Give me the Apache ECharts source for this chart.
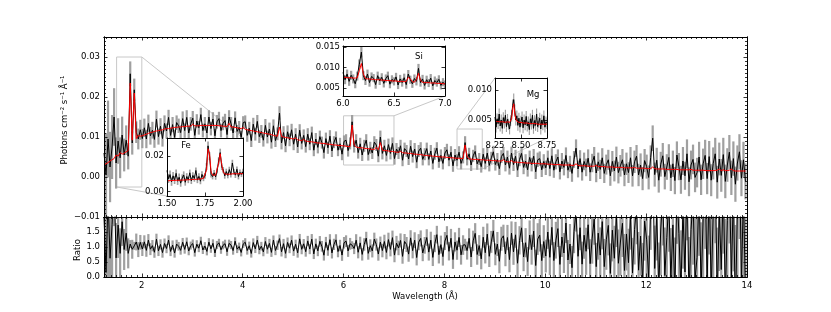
<!DOCTYPE html>
<html><head><meta charset="utf-8">
<script src="https://cdn.jsdelivr.net/npm/echarts@6/dist/echarts.min.js"></script>
<style>html,body{margin:0;padding:0;background:#fff}#c{width:831px;height:312px}</style>
</head><body><div id="c"></div>
<script>
// ---------- DATA (flux values in units of 1e-4 photons cm^-2 s^-1 Å^-1) ----------
const UNIT = 1e-4;
const WAVE_START = 1.25, WAVE_STEP = 0.04;
const flux = [
60,5,95,25,75,150,35,90,48,105,55,92,52,
258,85,218,112,95,118,96,
123,95,134,103,117,94,145,101,127,96,134,115,149,104,131,99,136,128,111,146,
116,149,110,133,147,104,140,123,156,116,133,110,150,121,145,103,138,146,116,134,
141,106,150,133,110,148,114,124,99,136,138,104,122,91,132,107,139,101,114,92,
129,100,120,87,128,91,108,160,85,111,78,113,93,118,82,107,75,117,84,104,
76,107,82,111,67,95,74,101,86,61,96,73,102,65,87,99,67,83,57,89,
92,66,84,138,76,92,61,83,55,78,92,56,73,60,87,80,52,100,59,78,
54,81,59,84,46,70,60,78,42,71,65,45,77,51,70,37,65,72,44,57,
71,44,65,34,58,72,38,54,34,60,68,42,62,28,55,42,62,34,49,86,
44,58,30,53,64,33,45,26,57,34,60,29,48,63,31,44,21,51,59,30,
50,22,60,31,52,17,44,59,24,40,18,49,31,52,13,43,46,18,39,23,
48,21,53,17,38,50,13,40,24,54,17,33,9,44,72,20,46,12,39,24,
47,12,35,52,10,38,19,48,9,31,43,3,39,15,50,11,28,43,5,33,
11,48,3,38,52,5,30,-4,41,26,-1,49,97,6,42,-8,32,53,1,25,
49,-2,33,-9,55,26,-7,40,3,58,-12,30,44,-1,11,50,-7,33,54,-4,
51,-8,34,58,-13,45,4,56,-11,30,62,-2,46,-18,35,63,-3,43,-11];
const model = [
30,33,36,40,43,46,55,52,61,57,60,63,66,
235,92,210,96,104,102,103,
105,107,109,111,112,114,115,116,117,118,120,121,121,122,123,124,124,125,125,126,
126,127,127,127,132,128,128,128,129,129,129,129,129,129,129,129,129,128,128,127,
127,126,134,125,125,124,123,122,121,124,119,118,117,116,115,114,113,112,111,110,
109,108,107,106,104,103,102,125,101,100,99,98,97,96,95,98,93,92,91,94,
90,89,88,88,87,86,85,85,84,84,83,82,82,81,80,80,79,79,78,78,
77,76,76,130,80,75,74,73,73,72,71,71,70,69,69,74,68,86,67,66,
66,65,64,64,63,62,62,64,61,60,60,59,59,58,57,57,56,56,55,54,
54,53,53,52,52,51,51,50,50,50,49,49,48,48,47,47,47,46,46,80,
50,45,45,44,44,44,43,43,43,42,42,42,41,41,41,40,40,40,43,39,
38,38,41,37,37,37,36,36,36,35,35,35,34,34,34,34,33,33,33,33,
32,32,32,31,31,31,31,30,30,30,30,30,29,29,33,29,28,28,28,28,
27,27,27,27,29,26,26,26,26,25,25,25,25,24,24,24,24,24,23,23,
23,23,23,24,22,22,22,22,22,21,21,21,25,21,20,20,20,20,20,19,
19,19,19,19,19,18,18,18,18,18,18,19,17,17,17,17,17,17,16,16,
16,16,16,16,17,20,16,18,16,16,17,20,16,15,15,15,15,15,15];
const err = [
115,105,96,88,80,72,64,57,51,46,41,37,33,
31,29,28,27,26,25,24,
23,23,22,22,21,21,21,20,20,20,20,19,19,19,19,19,18,18,18,18,
18,18,18,17,18,17,17,17,17,17,17,17,17,17,17,17,17,17,17,17,
17,17,17,17,17,16,16,16,16,16,16,16,16,16,16,16,16,16,16,16,
16,16,16,16,16,16,16,17,16,16,16,16,16,15,15,15,15,15,15,15,
15,15,15,15,15,15,15,15,15,15,15,15,15,15,15,15,15,15,15,15,
15,15,15,17,15,15,15,15,15,15,15,15,15,15,15,15,15,16,15,15,
15,15,15,15,15,15,15,15,15,15,15,15,15,15,15,15,15,15,15,15,
15,15,15,15,15,15,15,15,15,15,15,15,15,15,15,15,15,15,15,16,
15,15,15,15,15,15,15,15,15,15,15,15,15,15,15,16,16,16,16,16,
16,16,16,16,16,17,17,17,17,17,17,17,17,18,18,18,18,18,18,18,
18,19,19,19,19,19,19,20,20,20,20,20,21,21,22,21,21,21,22,22,
22,22,23,23,23,23,24,24,24,25,25,25,26,26,26,27,27,27,28,28,
26,27,27,28,28,28,29,29,29,30,30,30,32,30,31,31,31,32,32,32,
33,33,33,34,34,34,35,35,35,36,36,36,37,37,37,38,38,38,39,39,
39,40,40,40,41,41,41,42,42,42,43,43,43,44,44,44,45,45,45];

// Fe inset (1.50–2.00 Å, 0.01 Å bins)
const FE_START = 1.50, FE_STEP = 0.01;
const feFlux = [118,72,95,55,88,64,102,58,80,47, 76,93,52,84,66,105,60,90,73,118, 64,85,58,96,75,88,140,256,198,96, 84,105,82,118,172,218,140,120,88,112, 90,123,95,160,110,92,125,84,108,96, 112];
const feModel = [60,60,61,61,62,62,63,68,63,64, 64,65,65,66,66,67,67,68,68,69, 69,70,70,71,74,80,120,240,210,110, 92,91,92,100,160,212,150,110,98,96, 97,98,98,104,100,99,99,100,100,100, 100];
const feErr = [24,24,23,23,22,22,21,21,21,20, 20,20,19,19,19,18,18,18,18,17, 17,17,17,17,17,17,19,24,22,17, 16,16,16,17,20,22,19,17,16,16, 16,16,16,18,16,16,16,16,15,15, 15];
// Si inset (6.0–7.0 Å, 0.02 Å bins)
const SI_START = 6.00, SI_STEP = 0.02;
const siFlux = [88,70,84,66,81,72,60,79,108,138, 80,68,84,63,78,74,58,80,67,76, 61,73,80,59,71,66,77,57,72,63, 75,58,84,70,60,73,66,98,63,72, 56,70,62,74,55,68,63,71,56,64, 58];
const siModel = [76,76,75,75,75,74,74,75,92,110, 84,73,72,72,71,71,70,70,70,69, 69,68,68,68,67,67,67,66,66,66, 65,66,76,72,65,64,70,86,68,64, 63,63,63,62,62,62,61,61,61,60, 60];
const siErr = [11,11,11,11,11,11,11,11,12,13, 11,11,11,10,10,10,10,10,10,10, 10,10,10,10,10,10,10,10,10,10, 10,10,10,10,10,10,10,11,10,10, 10,10,10,10,10,10,10,10,10,10, 10];
// Mg inset (8.25–8.75 Å, 0.01 Å bins)
const MG_START = 8.25, MG_STEP = 0.01;
const mgFlux = [55,38,52,44,60,40,50,36,54,45, 58,39,51,43,35,49,57,74,84,66, 50,57,41,53,38,48,55,37,50,42, 56,40,47,34,52,43,58,36,49,41, 60,39,46,53,35,50,42,57,38,47, 44];
const mgModel = [48,48,48,47,47,47,47,47,47,46, 46,46,47,46,46,46,52,70,77,62, 52,48,47,46,46,46,46,45,45,45, 45,45,45,44,44,44,44,44,44,44, 44,43,43,43,43,43,43,43,43,43, 43];
const mgErr = [9,9,9,9,9,9,9,9,9,9, 9,9,9,9,9,9,10,10,10,10, 9,9,9,9,9,9,9,9,9,9, 9,9,9,9,9,9,9,9,9,9, 9,9,9,9,9,9,9,9,9,9, 9];

// ---------- AXES / TICKS ----------
const mainXRange = [1.25, 14], mainYRange = [-0.01, 0.035], ratioYRange = [0, 2];
const mainXTicks = [2,4,6,8,10,12,14], mainXLabels = ['2','4','6','8','10','12','14'];
const mainYTicks = [-0.01,0,0.01,0.02,0.03], mainYLabels = ['\u22120.01','0.00','0.01','0.02','0.03'];
const ratioYTicks = [0,0.5,1.0,1.5], ratioYLabels = ['0.0','0.5','1.0','1.5'];
const feXRange = [1.5, 2.0], feYRange = [-0.0025, 0.03];
const feXTicks = [1.5,1.75,2.0], feXLabels = ['1.50','1.75','2.00'];
const feYTicks = [0,0.02], feYLabels = ['0.00','0.02'];
const siXRange = [6.0, 7.0], siYRange = [0.003, 0.0153];
const siXTicks = [6.0,6.5,7.0], siXLabels = ['6.0','6.5','7.0'];
const siYTicks = [0.005,0.010,0.015], siYLabels = ['0.005','0.010','0.015'];
const mgXRange = [8.25, 8.75], mgYRange = [0.002, 0.012];
const mgXTicks = [8.25,8.5,8.75], mgXLabels = ['8.25','8.50','8.75'];
const mgYTicks = [0.005,0.010], mgYLabels = ['0.005','0.010'];

const mainXMinor = [], mainYMinor = [], ratioYMinor = [];
for (let k = 13; k <= 139; k++) if (k % 20) mainXMinor.push(k / 10);
for (let k = -9; k <= 34; k++) if (k % 10) mainYMinor.push(k / 1000);
for (let k = 1; k <= 19; k++) if (k % 5) ratioYMinor.push(k / 10);

// ---------- BUILD ----------
const FONT = 'DejaVu Sans', FS = 8.5;
const GRAY = '#a0a0a0', LINEGRAY = '#c8c8c8';
const xAxes = [], yAxes = [];
function fmtFrom(ticks, labels) {
  return v => { for (let i = 0; i < ticks.length; i++) if (Math.abs(ticks[i] - v) < 1e-9) return labels[i]; return ''; };
}
function mkAxis(grid, pos, range, vals, len, lab, z) {
  return {
    type: 'value', gridIndex: grid, position: pos, min: range[0], max: range[1], z: z, silent: true,
    axisLine: { show: true, onZero: false, lineStyle: { color: '#000', width: 1 } },
    axisTick: { show: true, inside: true, length: len, customValues: vals, lineStyle: { color: '#000', width: 0.8 } },
    axisLabel: lab ? { show: true, customValues: lab.ticks, formatter: fmtFrom(lab.ticks, lab.labels),
      fontSize: FS, fontFamily: FONT, color: '#000', margin: lab.margin } : { show: false },
    splitLine: { show: false }, splitArea: { show: false }
  };
}
function frame(grid, xr, yr, xMaj, xMin, yMaj, yMin, xLab, yLab, z) {
  const xi = xAxes.length;
  xAxes.push(mkAxis(grid, 'bottom', xr, xMaj, 3.5, xLab, z));
  if (xMin) xAxes.push(mkAxis(grid, 'bottom', xr, xMin, 2, null, z));
  xAxes.push(mkAxis(grid, 'top', xr, xMaj, 3.5, null, z));
  if (xMin) xAxes.push(mkAxis(grid, 'top', xr, xMin, 2, null, z));
  const yi = yAxes.length;
  yAxes.push(mkAxis(grid, 'left', yr, yMaj, 3.5, yLab, z));
  if (yMin) yAxes.push(mkAxis(grid, 'left', yr, yMin, 2, null, z));
  yAxes.push(mkAxis(grid, 'right', yr, yMaj, 3.5, null, z));
  if (yMin) yAxes.push(mkAxis(grid, 'right', yr, yMin, 2, null, z));
  return { xi, yi };
}

const grids = [
  { left: 104, top: 37, width: 643, height: 180 },
  { left: 104, top: 217, width: 643, height: 60 },
  { left: 167, top: 138, width: 76, height: 58, show: true, backgroundColor: '#fff', borderWidth: 0, z: 10 },
  { left: 343, top: 46, width: 102, height: 50, show: true, backgroundColor: '#fff', borderWidth: 0, z: 10 },
  { left: 495, top: 78, width: 52, height: 60, show: true, backgroundColor: '#fff', borderWidth: 0, z: 10 }
];

const axMain = frame(0, mainXRange, mainYRange, mainXTicks, mainXMinor, mainYTicks, mainYMinor,
  null, { ticks: mainYTicks, labels: mainYLabels, margin: 4 }, 5);
const axRatio = frame(1, mainXRange, ratioYRange, mainXTicks, mainXMinor, ratioYTicks.concat([2]), ratioYMinor,
  { ticks: mainXTicks, labels: mainXLabels, margin: 4 }, { ticks: ratioYTicks, labels: ratioYLabels, margin: 4 }, 5);
const axFe = frame(2, feXRange, feYRange, feXTicks, null, feYTicks, null,
  { ticks: feXTicks, labels: feXLabels, margin: 3 }, { ticks: feYTicks, labels: feYLabels, margin: 3 }, 14);
const axSi = frame(3, siXRange, siYRange, siXTicks, null, siYTicks, null,
  { ticks: siXTicks, labels: siXLabels, margin: 3 }, { ticks: siYTicks, labels: siYLabels, margin: 3 }, 14);
const axMg = frame(4, mgXRange, mgYRange, mgXTicks, null, mgYTicks, null,
  { ticks: mgXTicks, labels: mgXLabels, margin: 3 }, { ticks: mgYTicks, labels: mgYLabels, margin: 3 }, 14);

function errSeries(ax, pts, half, z) {
  return {
    type: 'custom', xAxisIndex: ax.xi, yAxisIndex: ax.yi, z: z, silent: true, animation: false,
    data: pts, encode: { x: 0, y: [1, 2] },
    renderItem(params, api) {
      const x = api.value(0), lo = api.value(1), hi = api.value(2);
      const a = api.coord([x - half, hi]), b = api.coord([x + half, lo]);
      const cs = params.coordSys;
      const r = echarts.graphic.clipRectByRect(
        { x: a[0], y: a[1], width: b[0] - a[0], height: b[1] - a[1] },
        { x: cs.x, y: cs.y, width: cs.width, height: cs.height });
      if (!r) return null;
      return { type: 'rect', shape: r, style: { fill: GRAY } };
    }
  };
}
function lineSeries(ax, pts, color, width, z) {
  return {
    type: 'line', xAxisIndex: ax.xi, yAxisIndex: ax.yi, data: pts, symbol: 'none', showSymbol: false,
    lineStyle: { color: color, width: width }, z: z, silent: true, animation: false, clip: true
  };
}
function spectrum(ax, start, step, fl, mo, er, z) {
  const w = fl.map((_, i) => +(start + i * step).toFixed(3));
  return [
    errSeries(ax, w.map((x, i) => [x, (fl[i] - er[i]) * UNIT, (fl[i] + er[i]) * UNIT]), step * 0.55, z),
    lineSeries(ax, w.map((x, i) => [x, fl[i] * UNIT]), '#000', 1, z + 1),
    lineSeries(ax, w.map((x, i) => [x, mo[i] * UNIT]), '#ff0000', 1, z + 2)
  ];
}
const waveMain = flux.map((_, i) => +(WAVE_START + i * WAVE_STEP).toFixed(3));
const ratio = flux.map((f, i) => f / model[i]);
const ratioErr = err.map((e, i) => e / model[i]);

const series = [].concat(
  spectrum(axMain, WAVE_START, WAVE_STEP, flux, model, err, 2),
  [
    errSeries(axRatio, waveMain.map((x, i) => [x, ratio[i] - ratioErr[i], ratio[i] + ratioErr[i]]), WAVE_STEP * 0.55, 2),
    lineSeries(axRatio, waveMain.map((x, i) => [x, ratio[i]]), '#000', 1, 3)
  ],
  spectrum(axFe, FE_START, FE_STEP, feFlux, feModel, feErr, 11),
  spectrum(axSi, SI_START, SI_STEP, siFlux, siModel, siErr, 11),
  spectrum(axMg, MG_START, MG_STEP, mgFlux, mgModel, mgErr, 11)
);

const chart = echarts.init(document.getElementById('c'), null, { renderer: 'canvas', width: 831, height: 312 });
chart.setOption({
  backgroundColor: '#fff', animation: false,
  textStyle: { fontFamily: FONT },
  grid: grids, xAxis: xAxes, yAxis: yAxes, series: series
});

// ---------- zoom boxes, connectors and texts ----------
function px(ax, p) { return chart.convertToPixel({ xAxisIndex: ax.xi, yAxisIndex: ax.yi }, p); }
const gfx = [];
function boxAndLinks(xr, yr, inAx, links) {
  const a = px(axMain, [xr[0], yr[1]]), b = px(axMain, [xr[1], yr[0]]);
  gfx.push({ type: 'rect', z: 1, silent: true, shape: { x: a[0], y: a[1], width: b[0] - a[0], height: b[1] - a[1] },
    style: { fill: 'none', stroke: LINEGRAY, lineWidth: 1 } });
  links.forEach(l => {
    const p = px(axMain, [xr[l[0]], yr[l[1]]]), q = px(inAx, [xr[l[2]], yr[l[3]]]);
    gfx.push({ type: 'line', z: 1, silent: true, shape: { x1: p[0], y1: p[1], x2: q[0], y2: q[1] },
      style: { stroke: LINEGRAY, lineWidth: 1 } });
  });
}
// link = [rect x idx, rect y idx, inset x idx, inset y idx]
boxAndLinks(feXRange, feYRange, axFe, [[1, 1, 1, 1], [0, 0, 0, 0]]);
boxAndLinks(siXRange, siYRange, axSi, [[1, 1, 1, 0]]);
boxAndLinks(mgXRange, mgYRange, axMg, [[0, 1, 0, 1], [1, 0, 1, 0]]);

function txt(s, x, y, rot) {
  gfx.push({ type: 'text', x: x, y: y, rotation: rot || 0, z: 20, silent: true,
    style: { text: s, fill: '#000', font: FS + 'px "' + FONT + '"', textAlign: 'center', textVerticalAlign: 'middle',
      align: 'center', verticalAlign: 'middle' } });
}
txt('Photons cm\u207B\u00B2 s\u207B\u00B9 \u00C5\u207B\u00B9', 65, 120, Math.PI / 2);
txt('Ratio', 78, 250, Math.PI / 2);
txt('Wavelength (\u00C5)', 425, 297);
txt('Fe', 186, 146);
txt('Si', 419, 57);
txt('Mg', 533, 95);
chart.setOption({ graphic: { elements: gfx } });
</script>
</body></html>
